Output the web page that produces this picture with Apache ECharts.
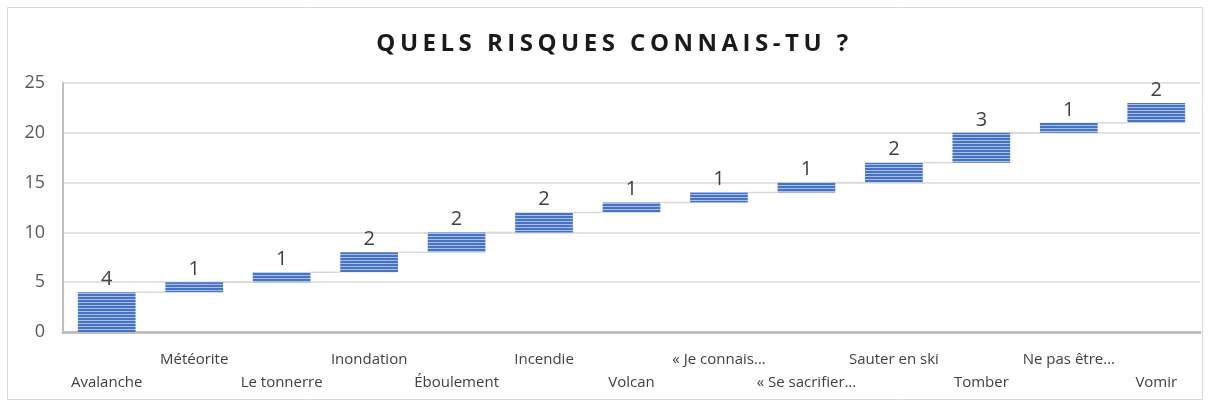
<!DOCTYPE html>
<html>
<head>
<meta charset="utf-8">
<script src="https://cdn.jsdelivr.net/npm/echarts@6/dist/echarts.min.js"></script>
<style>
    html, body { margin: 0; padding: 0; background: #fff; }
    #wrap { position: relative; width: 1211px; height: 405px; }
    #chart { position: absolute; left: 0; top: 0; width: 1211px; height: 405px; }
    #title {
        position: absolute; left: 9px; top: 26px; width: 1211px; text-align: center;
        font-family: "Open Sans", "Noto Sans", sans-serif; font-weight: bold;
        font-size: 24px; letter-spacing: 4.5px; color: #1a1a1a; line-height: 32px;
    }
</style>
</head>
<body>
<div id="wrap">
    <div id="chart"></div>
    <div id="title">QUELS RISQUES CONNAIS-TU ?</div>
</div>
<script>
    var categories = ['Avalanche', 'Météorite', 'Le tonnerre', 'Inondation', 'Éboulement', 'Incendie',
        'Volcan', '« Je connais…', '« Se sacrifier…', 'Sauter en ski', 'Tomber', 'Ne pas être…', 'Vomir'];
    var values = [4, 1, 1, 2, 2, 2, 1, 1, 1, 2, 3, 1, 2];
    // where each step starts (running total before the step)
    var offsets = [0, 4, 5, 6, 8, 10, 12, 13, 14, 15, 17, 20, 21];
    var yTicks = [0, 5, 10, 15, 20, 25];

    // striped fill like the office chart
    var pat = document.createElement('canvas');
    pat.width = 4; pat.height = 3;
    var ctx = pat.getContext('2d');
    ctx.fillStyle = '#4673c6';
    ctx.fillRect(0, 0, 4, 3);
    ctx.fillStyle = '#a9bfe8';
    ctx.fillRect(0, 2, 4, 1);

    var font = '"Open Sans", "Noto Sans", sans-serif';
    var chart = echarts.init(document.getElementById('chart'));

    chart.setOption({
        animation: false,
        graphic: [{
            type: 'rect', shape: { x: 7.5, y: 7.5, width: 1195, height: 392 },
            style: { fill: 'none', stroke: '#d9d9d9', lineWidth: 1 }, silent: true
        }],
        grid: { left: 63, right: 11, top: 83, bottom: 73 },
        xAxis: {
            type: 'category',
            data: categories,
            axisLine: { lineStyle: { color: '#bfbfbf', width: 3 } },
            axisTick: { show: false },
            axisLabel: {
                interval: 0,
                margin: 20,
                fontFamily: font,
                fontSize: 15,
                color: '#404040',
                formatter: function (v, i) {
                    return i % 2 === 0 ? '{lo|' + v + '}' : '{hi|' + v + '}';
                },
                rich: {
                    hi: { fontFamily: font, fontSize: 15, color: '#404040', padding: [0, 0, 0, 0] },
                    lo: { fontFamily: font, fontSize: 15, color: '#404040', padding: [23, 0, 0, 0] }
                }
            }
        },
        yAxis: {
            type: 'value',
            min: yTicks[0],
            max: yTicks[yTicks.length - 1],
            interval: 5,
            axisLine: { show: true, lineStyle: { color: '#bfbfbf', width: 2 } },
            axisTick: { show: false },
            axisLabel: { fontFamily: font, fontSize: 18, color: '#595959', margin: 18 },
            splitLine: { lineStyle: { color: '#d9d9d9', width: 1.5 } }
        },
        series: [
            {
                type: 'bar',
                stack: 'w',
                data: offsets,
                itemStyle: { color: 'transparent' },
                silent: true,
                barCategoryGap: '34%'
            },
            {
                type: 'bar',
                stack: 'w',
                data: values,
                itemStyle: { color: { image: pat, repeat: 'repeat' } },
                barCategoryGap: '34%',
                label: {
                    show: true,
                    position: 'top',
                    distance: 3,
                    fontFamily: font,
                    fontSize: 20,
                    color: '#404040'
                }
            },
            {
                type: 'custom',
                silent: true,
                z: 1,
                data: values.map(function (v, i) { return [i, offsets[i] + v]; }),
                renderItem: function (params, api) {
                    var i = api.value(0);
                    if (i >= categories.length - 1) return;
                    var band = api.size([1, 0])[0];
                    var half = band * 0.33;
                    var p1 = api.coord([i, api.value(1)]);
                    var p2 = api.coord([i + 1, api.value(1)]);
                    return {
                        type: 'line',
                        shape: { x1: p1[0] + half, y1: p1[1], x2: p2[0] - half, y2: p2[1] },
                        style: { stroke: '#d9d9d9', lineWidth: 1.5 }
                    };
                }
            }
        ]
    });
</script>
</body>
</html>
